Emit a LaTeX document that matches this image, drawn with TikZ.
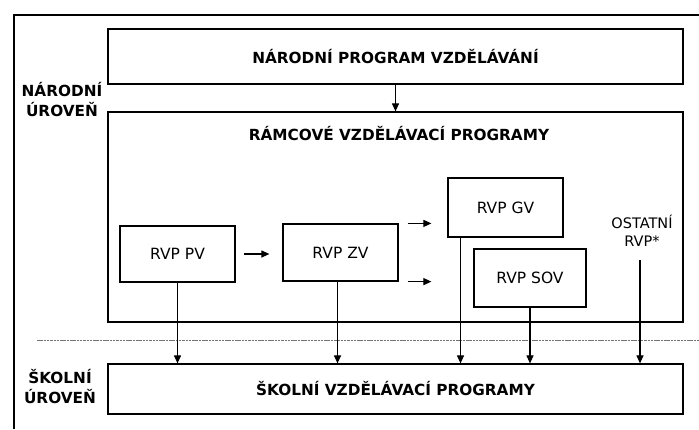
\documentclass[tikz,border=0pt]{standalone}
\usepackage{fontspec}
\setmainfont{DejaVu Sans}
\usetikzlibrary{arrows.meta}

\tikzset{
  box/.style={draw, line width=1.2pt, inner sep=0pt, font=\fontsize{15.5}{18}\selectfont},
  title/.style={font=\bfseries\fontsize{15.3}{18}\selectfont},
  level/.style={font=\bfseries\fontsize{15.3}{20}\selectfont, align=center},
  arr/.style={line width=1.1pt, -{Triangle[length=8pt,width=7pt]}}
}

\begin{document}
\begin{tikzpicture}[x=1pt,y=-1pt]
      \useasboundingbox (0,0) rectangle (699,429);
      \draw[line width=1.2pt] (14,429) -- (14,15) -- (699,15);
      \draw[black!55, line width=0.8pt, dash pattern=on 2.5pt off 0.8pt] (37,340) -- (699,340);
      \node[level] (narodni) at (62,100) {NÁRODNÍ\\ÚROVEŇ};
      \node[level] (skolni) at (60,387) {ŠKOLNÍ\\ÚROVEŇ};
      \node[box, title, minimum width=575pt, minimum height=55pt] (npv) at (395.5,56.5) {NÁRODNÍ PROGRAM VZDĚLÁVÁNÍ};
      \node[box, minimum width=575pt, minimum height=210pt] (rvp) at (395.5,217) {};
      \node[title] (rvptitle) at (399,134) {RÁMCOVÉ VZDĚLÁVACÍ PROGRAMY};
      \node[box, title, minimum width=575pt, minimum height=50pt] (svp) at (395.5,389) {ŠKOLNÍ VZDĚLÁVACÍ PROGRAMY};
      \node[box, minimum width=115pt, minimum height=56pt] (pv) at (177.5,254) {RVP PV};
      \node[box, minimum width=115pt, minimum height=57pt] (zv) at (340.5,252.5) {RVP ZV};
      \node[box, minimum width=115pt, minimum height=59pt] (gv) at (505.5,207.5) {RVP GV};
      \node[box, minimum width=112pt, minimum height=58pt] (sov) at (530,278) {RVP SOV};
      \node[align=center, font=\fontsize{14.5}{18}\selectfont] (ostatni) at (642,231) {OSTATNÍ\\RVP*};
      \draw[arr] (npv.south) -- (npv.south |- rvp.north);
      \draw[arr, shorten <=8pt, shorten >=13pt] (pv.east) -- (pv.east -| zv.west);
      \draw[arr] ([xshift=9pt]zv.north east) -- ([xshift=-16pt]zv.north east -| gv.west);
      \draw[arr] ([xshift=9pt]zv.south east) -- ([xshift=-16pt]zv.south east -| gv.west);
      \draw[arr] (pv.south) -- (pv.south |- svp.north);
      \draw[arr] ([xshift=-3pt]zv.south) -- ([xshift=-3pt]zv.south |- svp.north);
      \draw[arr] ([xshift=-45pt]gv.south) -- ([xshift=-45pt]gv.south |- svp.north);
      \draw[arr] (sov.south) -- (sov.south |- svp.north);
      \draw[arr, shorten <=10pt] ([xshift=-2pt]ostatni.south) -- ([xshift=-2pt]ostatni.south |- svp.north);
\end{tikzpicture}
\end{document}
